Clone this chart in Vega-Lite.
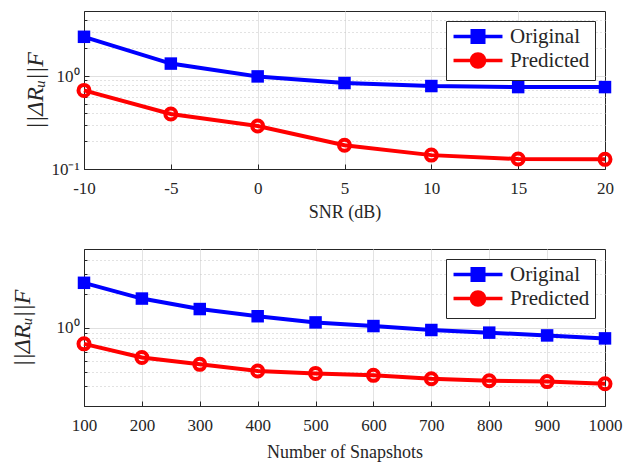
{
  "$schema": "https://vega.github.io/schema/vega-lite/v6.json",
  "padding": {"left": 9, "top": 10, "right": 30, "bottom": 5},
  "spacing": 26,
  "config": {
    "font": "Liberation Serif",
    "view": {"stroke": "#262626", "strokeWidth": 1},
    "axis": {
      "labelFont": "Liberation Serif", "labelFontSize": 17, "labelColor": "#262626", "labelFlush": false,
      "titleFont": "Liberation Serif", "titleFontSize": 18, "titleFontWeight": "normal", "titleColor": "#262626",
      "domainColor": "#262626", "tickColor": "#262626", "gridColor": "#e3e3e3", "tickSize": -5, "labelPadding": 16
    },
    "legend": {
      "orient": "top-right", "offset": 10, "fillColor": "white", "strokeColor": "#262626",
      "padding": 5, "labelFont": "Liberation Serif", "labelFontSize": 21, "labelColor": "#262626",
      "rowPadding": -4, "symbolOffset": 16.5, "labelOffset": 21.5, "title": null, "symbolSize": 144, "symbolStrokeWidth": 3.5, "symbolOpacity": 1
    }
  },
  "datasets": {
    "snr": [
      {"snr": -10, "series": "Original", "v": 2.64},
      {"snr": -5, "series": "Original", "v": 1.36},
      {"snr": 0, "series": "Original", "v": 0.99},
      {"snr": 5, "series": "Original", "v": 0.84},
      {"snr": 10, "series": "Original", "v": 0.78},
      {"snr": 15, "series": "Original", "v": 0.76},
      {"snr": 20, "series": "Original", "v": 0.76},
      {"snr": -10, "series": "Predicted", "v": 0.70},
      {"snr": -5, "series": "Predicted", "v": 0.39},
      {"snr": 0, "series": "Predicted", "v": 0.29},
      {"snr": 5, "series": "Predicted", "v": 0.18},
      {"snr": 10, "series": "Predicted", "v": 0.141},
      {"snr": 15, "series": "Predicted", "v": 0.128},
      {"snr": 20, "series": "Predicted", "v": 0.127}
    ],
    "snap": [
      {"n": 100, "series": "Original", "v": 2.50},
      {"n": 200, "series": "Original", "v": 1.81},
      {"n": 300, "series": "Original", "v": 1.46},
      {"n": 400, "series": "Original", "v": 1.26},
      {"n": 500, "series": "Original", "v": 1.11},
      {"n": 600, "series": "Original", "v": 1.03},
      {"n": 700, "series": "Original", "v": 0.95},
      {"n": 800, "series": "Original", "v": 0.90},
      {"n": 900, "series": "Original", "v": 0.85},
      {"n": 1000, "series": "Original", "v": 0.80},
      {"n": 100, "series": "Predicted", "v": 0.715},
      {"n": 200, "series": "Predicted", "v": 0.54},
      {"n": 300, "series": "Predicted", "v": 0.47},
      {"n": 400, "series": "Predicted", "v": 0.41},
      {"n": 500, "series": "Predicted", "v": 0.39},
      {"n": 600, "series": "Predicted", "v": 0.375},
      {"n": 700, "series": "Predicted", "v": 0.35},
      {"n": 800, "series": "Predicted", "v": 0.336},
      {"n": 900, "series": "Predicted", "v": 0.33},
      {"n": 1000, "series": "Predicted", "v": 0.316}
    ]
  },
  "vconcat": [
    {
      "width": 521, "height": 158,
      "data": {"name": "snr"},
      "encoding": {
        "x": {"field": "snr", "type": "quantitative", "title": "SNR (dB)",
          "scale": {"domain": [-10, 20], "nice": false, "zero": false},
          "axis": {"values": [-10, -5, 0, 5, 10, 15, 20], "labelExpr": "datum.value + ''", "titlePadding": 7,
            "gridColor": {"condition": {"test": "datum.value == 20", "value": "transparent"}, "value": "#e3e3e3"}}},
        "y": {"field": "v", "type": "quantitative", "title": "||ΔRᵤ||F",
          "scale": {"type": "log", "domain": [0.1, 5], "nice": false},
          "axis": {
            "values": [0.1, 0.2, 0.3, 0.4, 0.5, 0.6, 0.7, 0.8, 0.9, 1, 2, 3, 4, 5],
            "labelExpr": "datum.value == 1 ? '10⁰' : (datum.value == 0.1 ? '10⁻¹' : '')",
            "gridDash": {"condition": {"test": "datum.value == 1 || datum.value == 0.1", "value": []}, "value": [1, 3]},
            "gridColor": {"condition": [{"test": "datum.value == 5", "value": "transparent"}, {"test": "datum.value == 1 || datum.value == 0.1", "value": "#e0e0e0"}], "value": "#c4c4c4"},
            "tickSize": {"condition": {"test": "datum.value == 1 || datum.value == 0.1", "value": -5}, "value": -3},
            "labelPadding": 10, "titlePadding": 3, "titleFontSize": 24, "titleFontStyle": "italic"
          }},
        "color": {"field": "series", "type": "nominal", "title": null,
          "scale": {"domain": ["Original", "Predicted"], "range": ["#0000ff", "#ff0000"]}}
      },
      "layer": [
        {"mark": {"type": "line", "strokeWidth": 4}},
        {"transform": [{"filter": "datum.series == 'Original'"}],
          "mark": {"type": "point", "shape": "square", "size": 156, "filled": true, "opacity": 1}},
        {"transform": [{"filter": "datum.series == 'Predicted'"}],
          "mark": {"type": "point", "shape": "circle", "size": 121, "filled": false, "strokeWidth": 4, "opacity": 1}},
        {"mark": {"type": "point", "filled": false, "opacity": 0, "size": 144},
          "encoding": {
            "shape": {"field": "series", "type": "nominal", "title": null,
              "scale": {"domain": ["Original", "Predicted"], "range": ["M-4.08,0H4.08M-0.96,-0.96H0.96V0.96H-0.96ZM-0.5,-0.5H0.5V0.5H-0.5Z", "M-4.08,0H4.08M1.1,0A1.1,1.1 0 1,1 -1.1,0A1.1,1.1 0 1,1 1.1,0"]}}
          }}
      ]
    },
    {
      "width": 521, "height": 157,
      "data": {"name": "snap"},
      "encoding": {
        "x": {"field": "n", "type": "quantitative", "title": "Number of Snapshots",
          "scale": {"domain": [100, 1000], "nice": false, "zero": false},
          "axis": {"values": [100, 200, 300, 400, 500, 600, 700, 800, 900, 1000], "labelExpr": "datum.value + ''", "titlePadding": 10,
            "gridColor": {"condition": {"test": "datum.value == 1000", "value": "transparent"}, "value": "#e3e3e3"}}},
        "y": {"field": "v", "type": "quantitative", "title": "||ΔRᵤ||F",
          "scale": {"type": "log", "domain": [0.2, 5], "nice": false},
          "axis": {
            "values": [0.2, 0.3, 0.4, 0.5, 0.6, 0.7, 0.8, 0.9, 1, 2, 3, 4, 5],
            "labelExpr": "datum.value == 1 ? '10⁰' : ''",
            "gridDash": {"condition": {"test": "datum.value == 1", "value": []}, "value": [1, 3]},
            "gridColor": {"condition": [{"test": "datum.value == 5", "value": "transparent"}, {"test": "datum.value == 1", "value": "#e0e0e0"}], "value": "#c4c4c4"},
            "tickSize": {"condition": {"test": "datum.value == 1", "value": -5}, "value": -3},
            "labelPadding": 10, "titlePadding": 22, "titleFontSize": 24, "titleFontStyle": "italic"
          }},
        "color": {"field": "series", "type": "nominal", "title": null,
          "scale": {"domain": ["Original", "Predicted"], "range": ["#0000ff", "#ff0000"]}}
      },
      "layer": [
        {"mark": {"type": "line", "strokeWidth": 4}},
        {"transform": [{"filter": "datum.series == 'Original'"}],
          "mark": {"type": "point", "shape": "square", "size": 156, "filled": true, "opacity": 1}},
        {"transform": [{"filter": "datum.series == 'Predicted'"}],
          "mark": {"type": "point", "shape": "circle", "size": 121, "filled": false, "strokeWidth": 4, "opacity": 1}},
        {"mark": {"type": "point", "filled": false, "opacity": 0, "size": 144},
          "encoding": {
            "shape": {"field": "series", "type": "nominal", "title": null,
              "scale": {"domain": ["Original", "Predicted"], "range": ["M-4.08,0H4.08M-0.96,-0.96H0.96V0.96H-0.96ZM-0.5,-0.5H0.5V0.5H-0.5Z", "M-4.08,0H4.08M1.1,0A1.1,1.1 0 1,1 -1.1,0A1.1,1.1 0 1,1 1.1,0"]}}
          }}
      ]
    }
  ],
  "resolve": {"scale": {"color": "independent", "shape": "independent"}, "legend": {"color": "independent", "shape": "independent"}}
}
